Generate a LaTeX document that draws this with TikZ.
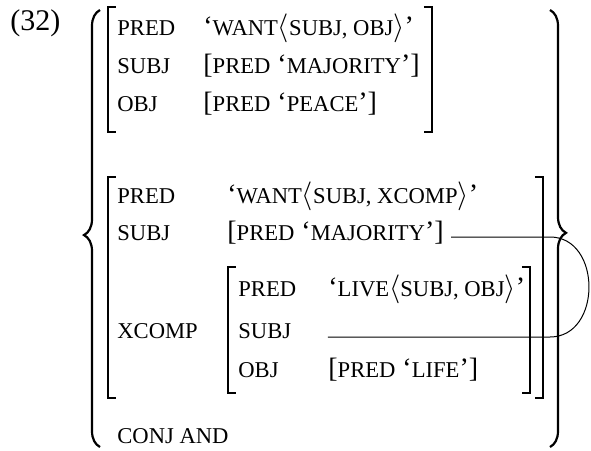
\documentclass[tikz,border=0pt]{standalone}
\usepackage{fontspec}
\setmainfont{Liberation Serif}
\usepackage{tikz}
\usetikzlibrary{decorations.pathreplacing}
\newcommand\fsc{\fontsize{11.3}{13}\selectfont}
\tikzset{
  % f-struktur
  att/.style={anchor=base west,inner sep=0pt,font=\fontsize{14}{17}\selectfont\fsc},
  val/.style={anchor=base west,inner sep=0pt,font=\fontsize{14}{17}\selectfont},
  brk/.style={draw=black,line width=0.7pt},
  brc/.style={draw=black,line width=1.1pt,decorate,decoration={brace,amplitude=8pt,#1}},
  brc/.default={aspect=0.5},
  lnk/.style={draw=black,line width=0.5pt},
}
\begin{document}
\begin{tikzpicture}[x=0.5pt,y=-0.5pt]
\useasboundingbox (0,0) rectangle (591,451);
  \node[val,font=\fontsize{15}{18}\selectfont] (ex) at (10,30) {(32)};
  % forsta konjunktet
  \node[att] (a1pred) at (117,35) {PRED};
  \node[val] (v1pred) at (203,35) {‘{\fsc WANT}$\langle${\fsc SUBJ, OBJ}$\rangle$’};
  \node[att] (a1subj) at (117,73) {SUBJ};
  \node[val] (v1subj) at (203,73) {[{\fsc PRED} ‘{\fsc MAJORITY}’]};
  \node[att] (a1obj) at (117,111) {OBJ};
  \node[val] (v1obj) at (203,111) {[{\fsc PRED} ‘{\fsc PEACE}’]};
  % andra konjunktet
  \node[att] (a2pred) at (117,203) {PRED};
  \node[val] (v2pred) at (227,203) {‘{\fsc WANT}$\langle${\fsc SUBJ, XCOMP}$\rangle$’};
  \node[att] (a2subj) at (117,240) {SUBJ};
  \node[val] (v2subj) at (227,240) {[{\fsc PRED} ‘{\fsc MAJORITY}’]};
  \node[att] (a2xcomp) at (117,338) {XCOMP};
  \node[att] (a3pred) at (238,296) {PRED};
  \node[val] (v3pred) at (328,296) {‘{\fsc LIVE}$\langle${\fsc SUBJ, OBJ}$\rangle$’};
  \node[att] (a3subj) at (238,338) {SUBJ};
  \node[att] (a3obj) at (238,377) {OBJ};
  \node[val] (v3obj) at (328,377) {[{\fsc PRED} ‘{\fsc LIFE}’]};
  \node[att] (conj) at (117,443) {CONJ AND};
  % hakparenteser
  \foreach \xa/\xb/\t/\b in {108/432/7/132, 108/543/177/398, 228/530/267/393} {
    \draw[brk] (\xa+8,\t) -| (\xa,\b) -- (\xa+8,\b);
    \draw[brk] (\xb-8,\t) -| (\xb,\b) -- (\xb-8,\b);
  }
  % klamrar
  \draw[brc={aspect=0.485}] (100,447) -- (100,10);
  \draw[brc={aspect=0.51}] (550,10) -- (550,447);
  % strukturdelning
  \coordinate (top) at (550,237);
  \coordinate (bot) at (550,337);
  \coordinate (slot) at (328,337);
  \draw[lnk] ([xshift=3.5pt]v2subj.east |- top) -- (top)
    .. controls +(52,0) and +(52,0) .. (bot) -- (slot);
\end{tikzpicture}
\end{document}
